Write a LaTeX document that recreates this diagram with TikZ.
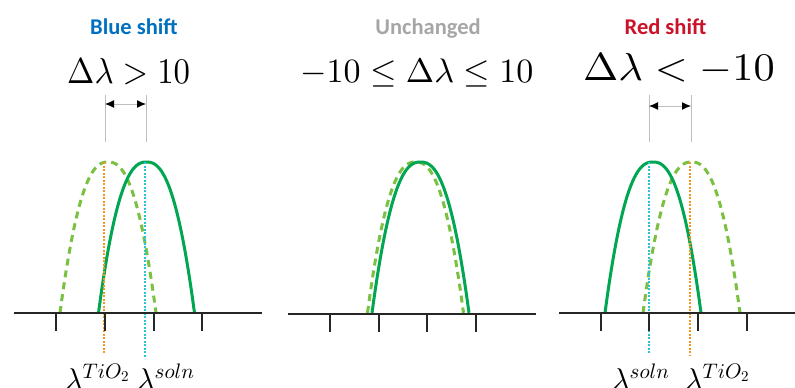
\documentclass[tikz,border=0pt]{standalone}
\usepackage{fontspec}
\usepackage{graphicx}
\usetikzlibrary{arrows.meta}
\DeclareFontShape{OML}{cmm}{m}{it}{<->cmmi10}{}
\DeclareFontShape{OMS}{cmsy}{m}{n}{<->cmsy10}{}
\DeclareFontShape{OT1}{cmr}{m}{n}{<->cmr10}{}
\newfontfamily\calib{Carlito}
\definecolor{bluetitle}{RGB}{0,112,192}
\definecolor{redtitle}{RGB}{204,18,40}
\definecolor{greytitle}{RGB}{166,166,166}
\definecolor{solidgreen}{RGB}{0,166,81}
\definecolor{dashgreen}{RGB}{122,193,66}
\definecolor{dotorange}{RGB}{247,148,30}
\definecolor{dotcyan}{RGB}{40,196,214}
\begin{document}
\begin{tikzpicture}[x=1pt,y=-1pt,
  axisline/.style={draw=black!85,line width=2pt},
  tickline/.style={draw=black!85,line width=2pt},
  solidcurve/.style={draw=solidgreen,line width=3pt},
  dashcurve/.style={draw=dashgreen,line width=3pt,dash pattern=on 7pt off 5pt},
  orangedot/.style={draw=dotorange,line width=1.5pt,dash pattern=on 2pt off 1.5pt},
  cyandot/.style={draw=dotcyan,line width=1.5pt,dash pattern=on 2pt off 1.5pt},
  guide/.style={draw=black!25,line width=1pt},
  shiftarrow/.style={draw=black!25,line width=1pt,{Latex[black,length=9pt,width=8pt]}-{Latex[black,length=9pt,width=8pt]}},
  title/.style={anchor=base,inner sep=0pt,font=\calib\bfseries\fontsize{22.5}{27}\selectfont},
  mathlabel/.style={anchor=base west,inner sep=0pt},
  lamlabel/.style={anchor=base west,inner sep=0pt,font=\fontsize{30}{36}\selectfont}]
\useasboundingbox (0,0) rectangle (795,388);

% titles
\node[title,text=bluetitle] (t1) at (134,34) {Blue shift};
\node[title,text=greytitle] (t2) at (428,34) {Unchanged};
\node[title,text=redtitle] (t3) at (665.5,34) {Red shift};

% conditions
\node[mathlabel] (c1) at (67,83.5) {\scalebox{0.91}[1]{\fontsize{36}{40}\selectfont$\Delta\lambda > 10$}};
\node[mathlabel] (c2) at (300,82) {\fontsize{34}{40}\selectfont$-10 \leq \Delta\lambda \leq 10$};
\node[mathlabel] (c3) at (583,80) {\scalebox{1.085}[1]{\fontsize{39}{44}\selectfont$\Delta\lambda < -10$}};

% ---------- panel 1 ----------
\draw[dashcurve] plot[domain=-1:1,samples=60,smooth] ({108+48*\x},{313-151*(1-abs(\x)^2.4)});
\draw[solidcurve] plot[domain=-1:1,samples=60,smooth] ({146.5+48*\x},{313-151*(1-abs(\x)^2.4)});
\coordinate (o1a) at (104,162); \coordinate (o1b) at (104,353);
\coordinate (c1a) at (145,162); \coordinate (c1b) at (145,357);
\draw[orangedot] (o1a) -- (o1b);
\draw[cyandot] (c1a) -- (c1b);
\coordinate (a1l) at (14,313); \coordinate (a1r) at (262,313);
\draw[axisline] (a1l) -- (a1r);
\foreach \tx [count=\i] in {56,105,154,202} {
  \coordinate (k1\i) at (\tx,313); \coordinate (k1\i b) at (\tx,331);
  \draw[tickline] (k1\i) -- (k1\i b);
}
\coordinate (g1at) at (105,95); \coordinate (g1ab) at (105,142);
\coordinate (g1bt) at (146,95); \coordinate (g1bb) at (146,142);
\draw[guide] (g1at) -- (g1ab);
\draw[guide] (g1bt) -- (g1bb);
\coordinate (r1l) at (105,104); \coordinate (r1r) at (146,104);
\draw[shiftarrow] (r1l) -- (r1r);
\node[lamlabel] (l1a) at (65,389) {$\lambda^{TiO_2}$};
\node[lamlabel] (l1b) at (137,389) {$\lambda^{soln}$};

% ---------- panel 2 ----------
\draw[dashcurve] plot[domain=-1:1,samples=60,smooth] ({415.5+48*\x},{313-151*(1-abs(\x)^2.4)});
\draw[solidcurve] plot[domain=-1:1,samples=60,smooth] ({420.5+48.5*\x},{313-151*(1-abs(\x)^2.4)});
\coordinate (a2l) at (288,314); \coordinate (a2r) at (536,314);
\draw[axisline] (a2l) -- (a2r);
\foreach \tx [count=\i] in {330,379,427,476} {
  \coordinate (k2\i) at (\tx,314); \coordinate (k2\i b) at (\tx,332);
  \draw[tickline] (k2\i) -- (k2\i b);
}

% ---------- panel 3 ----------
\draw[dashcurve] plot[domain=-1:1,samples=60,smooth] ({691.5+48.5*\x},{313-151*(1-abs(\x)^2.4)});
\draw[solidcurve] plot[domain=-1:1,samples=60,smooth] ({653+48*\x},{313-151*(1-abs(\x)^2.4)});
\coordinate (c3a) at (649,162); \coordinate (c3b) at (649,353);
\coordinate (o3a) at (690,162); \coordinate (o3b) at (690,355);
\draw[cyandot] (c3a) -- (c3b);
\draw[orangedot] (o3a) -- (o3b);
\coordinate (a3l) at (559,313); \coordinate (a3r) at (795,313);
\draw[axisline] (a3l) -- (a3r);
\foreach \tx [count=\i] in {601,649,698,747} {
  \coordinate (k3\i) at (\tx,313); \coordinate (k3\i b) at (\tx,331);
  \draw[tickline] (k3\i) -- (k3\i b);
}
\coordinate (g3at) at (649,95); \coordinate (g3ab) at (649,142);
\coordinate (g3bt) at (691,95); \coordinate (g3bb) at (691,142);
\draw[guide] (g3at) -- (g3ab);
\draw[guide] (g3bt) -- (g3bb);
\coordinate (r3l) at (649,106); \coordinate (r3r) at (691,106);
\draw[shiftarrow] (r3l) -- (r3r);
\node[lamlabel] (l3a) at (612,389) {$\lambda^{soln}$};
\node[lamlabel] (l3b) at (685,389) {$\lambda^{TiO_2}$};
\end{tikzpicture}
\end{document}
